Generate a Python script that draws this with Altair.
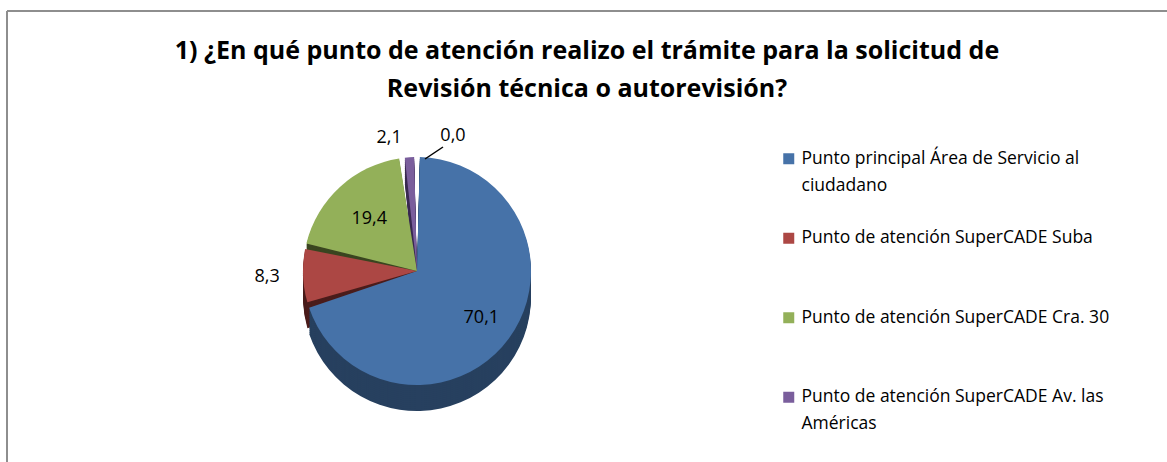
import json
import altair as alt
import pandas as pd

# ---------------- data ----------------
categories = [
    "Punto principal Área de Servicio al ciudadano",
    "Punto de atención SuperCADE Suba",
    "Punto de atención SuperCADE Cra. 30",
    "Punto de atención SuperCADE Av. las Américas",
    "Otro punto de atención",
]
values = [70.1, 8.3, 19.4, 2.1, 0.0]
legend_lines = [
    ["Punto principal Área de Servicio al", "ciudadano"],
    ["Punto de atención SuperCADE Suba"],
    ["Punto de atención SuperCADE Cra. 30"],
    ["Punto de atención SuperCADE Av. las", "Américas"],
]
title_lines = [
    "1) ¿En qué punto de atención realizo el trámite para la solicitud de",
    "Revisión  técnica  o autorevisión?",
]

# ---------------- styles ----------------
top_colors = ["#4672A8", "#AC4744", "#93B059", "#7A5E9C", "#4BACC6"]
side_colors = ["#27405F", "#4A1C1B", "#3A4520", "#3A2A52", "#2A6A7A"]
FONT = "Open Sans"
W, H = 1160, 451
CX, CY = 410, 260        # pie centre inside the frame
R = 114                  # pie radius
DEPTH = 26               # pseudo-3D thickness
PAD = 0.05

df = pd.DataFrame({"cat": categories, "value": values, "idx": list(range(len(values)))})
base = alt.Chart(df)

theta = alt.Theta("value:Q", stack=True)
order = alt.Order("idx:Q")

layers = []
# side (depth) of the pie
dark_expr = json.dumps(side_colors) + "[datum.idx]"
for k in range(DEPTH, 0, -2):
    layers.append(
        base.transform_calculate(dark=dark_expr)
        .mark_arc(outerRadius=R, padAngle=PAD)
        .encode(theta=theta, order=order,
                color=alt.Color("dark:N", scale=None),
                x=alt.value(CX), y=alt.value(CY + k))
    )

label_expr = "datum.label"
for cat, lines in reversed(list(zip(categories, legend_lines))):
    label_expr = (f"datum.label === {json.dumps(cat, ensure_ascii=False)} ? "
                  f"{json.dumps(lines, ensure_ascii=False)} : {label_expr}")

layers.append(
    base.mark_arc(outerRadius=R, padAngle=PAD)
    .encode(
        theta=theta, order=order,
        color=alt.Color(
            "cat:N",
            scale=alt.Scale(domain=categories, range=top_colors),
            legend=alt.Legend(
                title=None, orient="none", legendX=773, legendY=139,
                values=categories[:4], symbolType="square", symbolSize=121,
                symbolStrokeWidth=0, labelFont=FONT, labelFontSize=17.5,
                labelColor="black", labelLimit=420, labelExpr=label_expr,
                labelOffset=4, rowPadding=33.5, gridAlign="all", padding=0,
                labelBaseline="middle",
            ),
        ),
        x=alt.value(CX), y=alt.value(CY),
    )
)


def value_labels(show, radius, theta_offset=0.0):
    expr = (f"indexof({json.dumps(show)}, datum.idx) >= 0 ? "
            "replace(format(datum.value, '.1f'), '.', ',') : ''")
    return (
        base.transform_calculate(lab=expr)
        .mark_text(radius=radius, thetaOffset=theta_offset, font=FONT,
                   fontSize=18, color="black")
        .encode(theta=theta, order=order, detail="cat:N", text="lab:N",
                x=alt.value(CX), y=alt.value(CY))
    )


layers.append(value_labels([0], R * 0.7))
layers.append(value_labels([2], R * 0.62))
layers.append(value_labels([1], R + 36))
layers.append(value_labels([3], R + 22, -0.14))
layers.append(value_labels([4], R + 26, 0.26))

one = alt.Chart(pd.DataFrame({"a": [0]}))
# leader line of the 0,0 label
layers.append(one.mark_rule(color="black", strokeWidth=1.5).encode(
    x=alt.value(CX + 8), y=alt.value(CY - R + 2),
    x2=alt.value(CX + 26), y2=alt.value(CY - R - 10)))
# frame lines (top and left edge of the chart area)
layers.append(one.mark_rule(color="#8E8E8E", strokeWidth=2).encode(
    x=alt.value(0), x2=alt.value(W), y=alt.value(0)))
layers.append(one.mark_rule(color="#8E8E8E", strokeWidth=2).encode(
    x=alt.value(0), y=alt.value(0), y2=alt.value(H)))

chart = (
    alt.layer(*layers)
    .properties(
        width=W, height=H,
        padding={"left": 7, "top": 11, "right": 0, "bottom": 0},
        autosize=alt.AutoSizeParams(type="none"),
        title=alt.Title(
            text=title_lines, font=FONT, fontSize=25, fontWeight="bold",
            color="black", anchor="middle", baseline="top", lineHeight=38,
            dy=96,
        ),
        background="white",
    )
    .configure_view(stroke=None)
    .configure(style={"guide-label": {"lineHeight": 27}})
)

chart.save("out.html", embed_options={"renderer": "svg", "actions": False})
